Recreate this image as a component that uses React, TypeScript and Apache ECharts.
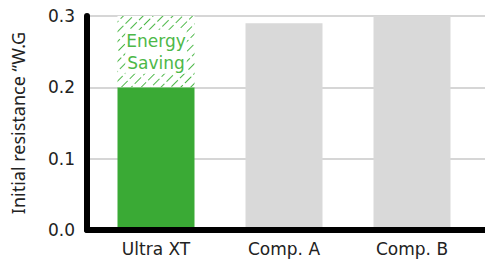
import React, { useEffect, useRef } from "react";
import * as echarts from "echarts";

const categories = ["Ultra XT", "Comp. A", "Comp. B"];
const baseValues = [0.2, 0.29, 0.3];
const savingValues = [0.1, null, null];
const barColors = ["#3aaa35", "#d9d9d9", "#d9d9d9"];
const yTicks = { min: 0, max: 0.3, interval: 0.1 };
const yAxisTitle = "Initial resistance \u201CW.G";
const savingLabel = "Energy\nSaving";

export default function App() {
  const ref = useRef<HTMLDivElement>(null);
  useEffect(() => {
    if (!ref.current) return;
    const chart = echarts.init(ref.current, undefined, { renderer: "svg" });
    const font = "'DejaVu Sans', sans-serif";
    chart.setOption({
      animation: false,
      grid: [
        { left: 92, right: 9, top: 16, bottom: 29 },
        { left: 87, right: 0, top: 16, bottom: 29 },
      ],
      xAxis: [
        {
          gridIndex: 0,
          type: "category",
          data: categories,
          axisLine: { show: false },
          axisTick: { show: false },
          axisLabel: { color: "#222", fontSize: 17, margin: 10, fontFamily: font },
        },
        {
          gridIndex: 1,
          type: "value",
          min: 0,
          max: 1,
          z: 10,
          axisLine: { show: true, lineStyle: { color: "#000", width: 6 } },
          axisTick: { show: false },
          axisLabel: { show: false },
          splitLine: { show: false },
        },
      ],
      yAxis: [
        {
          gridIndex: 0,
          type: "value",
          ...yTicks,
          axisLine: { show: false },
          axisTick: { show: false },
          axisLabel: { show: false },
          splitLine: { show: false },
        },
        {
          gridIndex: 1,
          type: "value",
          ...yTicks,
          name: yAxisTitle,
          nameLocation: "middle",
          nameGap: 60,
          nameRotate: 90,
          nameTextStyle: { color: "#222", fontSize: 18, fontFamily: "'Noto Sans', sans-serif" },
          axisLine: { show: true, lineStyle: { color: "#000", width: 6 } },
          axisTick: { show: false },
          axisLabel: {
            color: "#222",
            fontSize: 17,
            margin: 12,
            fontFamily: font,
            formatter: (v: number) => v.toFixed(1),
          },
          splitLine: { show: true, lineStyle: { color: "#c8c8c8", width: 1.5 } },
        },
      ],
      series: [
        {
          type: "bar",
          xAxisIndex: 0,
          yAxisIndex: 0,
          stack: "total",
          barWidth: 77,
          data: baseValues.map((v, i) => ({ value: v, itemStyle: { color: barColors[i] } })),
        },
        {
          type: "bar",
          xAxisIndex: 0,
          yAxisIndex: 0,
          stack: "total",
          barWidth: 77,
          itemStyle: {
            color: "#ffffff",
            decal: {
              symbol: "rect",
              symbolSize: 1,
              color: "#4db848",
              backgroundColor: "#ffffff",
              dashArrayX: [[9, 3]],
              dashArrayY: [1, 6],
              rotation: -Math.PI / 4,
            },
          },
          label: {
            show: true,
            position: "inside",
            formatter: savingLabel,
            color: "#4db848",
            fontSize: 17,
            lineHeight: 22,
            fontFamily: font,
            backgroundColor: "#fff",
            padding: [0, 1],
          },
          data: savingValues,
        },
      ],
    });
    return () => chart.dispose();
  }, []);
  return <div ref={ref} style={{ width: 485, height: 259, position: "absolute", left: 0, top: 0 }} />;
}
